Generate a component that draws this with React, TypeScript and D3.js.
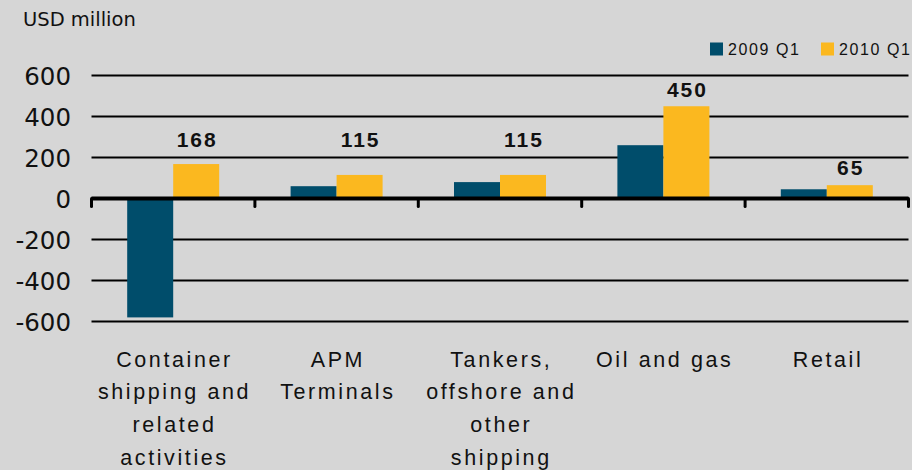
import React from "react";
import * as d3 from "d3";

const categories: string[][] = [
  ["Container", "shipping and", "related", "activities"],
  ["APM", "Terminals"],
  ["Tankers,", "offshore and", "other", "shipping"],
  ["Oil and gas"],
  ["Retail"],
];
const seriesNames = ["2009 Q1", "2010 Q1"];
const values2009 = [-580, 60, 80, 260, 45];
const values2010 = [168, 115, 115, 450, 65];
const valueLabels = ["168", "115", "115", "450", "65"];
const labelPos = [252, 252, 252, 494, 115];
const yTicks = [600, 400, 200, 0, -200, -400, -600];

const W = 912;
const H = 470;
const colors = ["#004D6B", "#FBB81F"];

export default function App() {
  const left = 91.5;
  const right = 908.5;
  const x = d3
    .scaleBand<number>()
    .domain(d3.range(categories.length))
    .range([left, right])
    .padding(0);
  const y = d3.scaleLinear().domain([-600, 600]).range([321.5, 75.5]);
  const barW = 46;
  const inner = d3
    .scaleBand<number>()
    .domain([0, 1])
    .range([-barW, barW])
    .padding(0);
  const series = [values2009, values2010];
  const y0 = y(0);

  return (
    <svg
      width={W}
      height={H}
      style={{ position: "absolute", left: 0, top: 0, display: "block" }}
    >
      <rect x={0} y={0} width={W} height={H} fill="#D6D6D6" />
      <text
        x={23}
        y={26}
        fontFamily="DejaVu Sans"
        fontSize={19.5}
        fill="#111"
      >
        USD million
      </text>
      {/* legend */}
      {seriesNames.map((s, i) => {
        const lx = i === 0 ? 710 : 821;
        return (
          <g key={s}>
            <rect x={lx} y={42.5} width={13} height={13} fill={colors[i]} />
            <text
              x={lx + 18}
              y={55}
              fontFamily="Liberation Sans, Arial"
              fontSize={16}
              letterSpacing={1.6}
              fill="#111"
            >
              {s}
            </text>
          </g>
        );
      })}
      {/* gridlines */}
      {yTicks
        .filter((t) => t !== 0)
        .map((t) => (
          <line
            key={t}
            x1={left}
            x2={right}
            y1={y(t)}
            y2={y(t)}
            stroke="#000"
            strokeWidth={2.2}
          />
        ))}
      {/* tick labels */}
      {yTicks.map((t) => (
        <text
          key={"l" + t}
          x={71}
          y={y(t) + 9}
          textAnchor="end"
          fontFamily="DejaVu Sans"
          fontSize={24.5}
          fill="#111"
        >
          {t}
        </text>
      ))}
      {/* bars */}
      {categories.map((_, ci) => {
        const cx = (x(ci) as number) + x.bandwidth() / 2;
        return series.map((vals, si) => {
          const v = vals[ci];
          const bx = cx + (inner(si) as number);
          return (
            <rect
              key={ci + "-" + si}
              x={bx}
              width={inner.bandwidth()}
              y={Math.min(y(v), y0)}
              height={Math.abs(y(v) - y0)}
              fill={colors[si]}
            />
          );
        });
      })}
      {/* zero axis */}
      <line
        x1={left}
        x2={right}
        y1={y0}
        y2={y0}
        stroke="#000"
        strokeWidth={4}
      />
      {d3.range(categories.length + 1).map((i) => {
        const tx = left + i * x.bandwidth();
        return (
          <line
            key={"t" + i}
            x1={tx}
            x2={tx}
            y1={y0}
            y2={y0 + 8}
            stroke="#000"
            strokeWidth={3}
            strokeLinecap="round"
          />
        );
      })}
      {/* value labels */}
      {valueLabels.map((lab, ci) => {
        const cx =
          (x(ci) as number) +
          x.bandwidth() / 2 +
          (inner(1) as number) +
          inner.bandwidth() / 2;
        return (
          <text
            key={"v" + ci}
            x={cx + 1}
            y={y(labelPos[ci])}
            textAnchor="middle"
            fontFamily="Liberation Sans, Arial"
            fontWeight="bold"
            fontSize={21}
            letterSpacing={2}
            fill="#111"
          >
            {lab}
          </text>
        );
      })}
      {/* category labels */}
      {categories.map((lines, ci) => {
        const cx = (x(ci) as number) + x.bandwidth() / 2;
        return (
          <text
            key={"c" + ci}
            textAnchor="middle"
            fontFamily="Liberation Sans, Arial"
            fontSize={21.5}
            letterSpacing={2.6}
            fill="#111"
          >
            {lines.map((ln, li) => (
              <tspan key={li} x={cx + 1.3} y={366.7 + li * 32.7}>
                {ln}
              </tspan>
            ))}
          </text>
        );
      })}
    </svg>
  );
}
